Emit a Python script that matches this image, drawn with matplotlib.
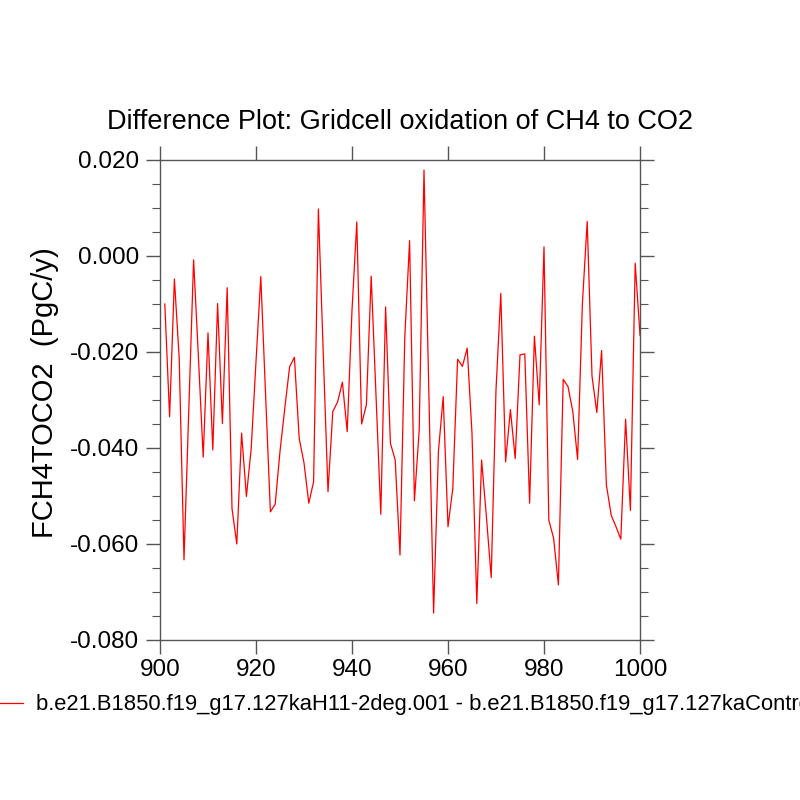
import numpy as np
import matplotlib
matplotlib.use('Agg')
import matplotlib.pyplot as plt
from matplotlib.ticker import MultipleLocator, FormatStrFormatter

plt.rcParams['font.family'] = ['Liberation Sans', 'DejaVu Sans']

# data
years = np.arange(901, 1001)
fch4toco2 = [
    -0.0100, -0.0335, -0.0048, -0.0213, -0.0633, -0.0320, -0.0008, -0.0210, -0.0419, -0.0160,
    -0.0404, -0.0099, -0.0349, -0.0066, -0.0526, -0.0600, -0.0369, -0.0501, -0.0401, -0.0220,
    -0.0043, -0.0290, -0.0533, -0.0517, -0.0407, -0.0317, -0.0231, -0.0211, -0.0380, -0.0431,
    -0.0515, -0.0470, 0.0098, -0.0200, -0.0491, -0.0324, -0.0304, -0.0263, -0.0366, -0.0113,
    0.0071, -0.0350, -0.0310, -0.0042, -0.0290, -0.0538, -0.0106, -0.0390, -0.0425, -0.0623,
    -0.0168, 0.0032, -0.0510, -0.0363, 0.0179, -0.0280, -0.0744, -0.0408, -0.0293, -0.0564,
    -0.0484, -0.0215, -0.0230, -0.0192, -0.0370, -0.0724, -0.0425, -0.0543, -0.0670, -0.0279,
    -0.0078, -0.0429, -0.0320, -0.0422, -0.0206, -0.0204, -0.0515, -0.0167, -0.0310, 0.0019,
    -0.0550, -0.0588, -0.0685, -0.0257, -0.0272, -0.0324, -0.0424, -0.0099, 0.0072, -0.0250,
    -0.0326, -0.0197, -0.0477, -0.0540, -0.0564, -0.0590, -0.0340, -0.0530, -0.0015, -0.0165,
]
legend_label = ('b.e21.B1850.f19_g17.127kaH11-2deg.001 - '
                'b.e21.B1850.f19_g17.127kaControl')

fig = plt.figure(figsize=[8, 8], dpi=100)
ax = fig.add_axes([0.2, 0.2, 0.6, 0.6])
line, = ax.plot(years, fch4toco2, color='red', linewidth=0.9)

ax.set_xlim(900, 1000)
ax.set_ylim(-0.080, 0.020)
ax.xaxis.set_major_locator(MultipleLocator(20))
ax.yaxis.set_major_locator(MultipleLocator(0.02))
ax.yaxis.set_minor_locator(MultipleLocator(0.005))
ax.yaxis.set_major_formatter(FormatStrFormatter('%.3f'))

for s in ax.spines.values():
    s.set_color('#555555')
    s.set_linewidth(1.0)
ax.tick_params(which='both', direction='out', top=True, right=True,
               color='#555555', labelsize=17.5)
ax.tick_params(axis='y', pad=5)
ax.tick_params(axis='x', pad=3.5)
ax.tick_params(which='major', length=10, width=1.0)
ax.tick_params(which='minor', length=6, width=0.8)

ax.set_title('Difference Plot: Gridcell oxidation of CH4 to CO2', fontsize=19.5, pad=22)
ax.set_ylabel('FCH4TOCO2  (PgC/y)', fontsize=21)
ax.yaxis.set_label_coords(-0.21, 0.515)

# the reference also runs the legend text off the right edge
fig.legend([line], [legend_label], loc='center left', bbox_to_anchor=(-0.012, 0.119),
           frameon=False, fontsize=15.8, handlelength=1.5, handletextpad=0.6,
           borderaxespad=0, borderpad=0)

fig.savefig('out.png', dpi=100)
